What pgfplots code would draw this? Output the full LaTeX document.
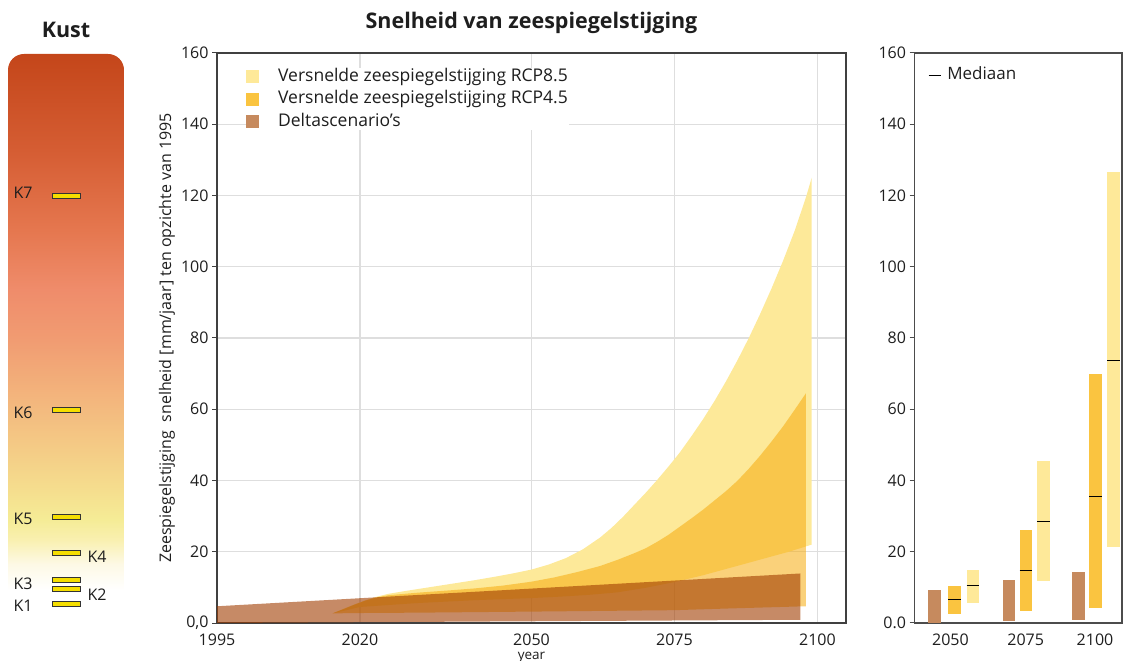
\documentclass[border=0pt]{standalone}
\usepackage{pgfplots}
\pgfplotsset{compat=1.18}
\usepackage{fontspec}
\setmainfont{Open Sans}
\definecolor{r85}{RGB}{253,233,153}
\definecolor{r45}{RGB}{246,171,12}
\definecolor{dlt}{RGB}{160,60,0}
\definecolor{r85leg}{RGB}{254,233,153}
\definecolor{r45leg}{RGB}{250,196,64}
\definecolor{dltleg}{RGB}{198,138,94}
\definecolor{gridc}{RGB}{222,222,222}
\definecolor{txt}{RGB}{30,30,30}
\definecolor{kyel}{RGB}{245,222,0}
\definecolor{ka}{RGB}{253,249,230}
\definecolor{kb}{RGB}{249,240,176}
\definecolor{kc}{RGB}{245,236,150}
\definecolor{kd}{RGB}{245,222,142}
\definecolor{ke}{RGB}{244,204,134}
\definecolor{kf}{RGB}{243,182,125}
\definecolor{kg}{RGB}{241,156,114}
\definecolor{kh}{RGB}{239,140,107}
\definecolor{ki}{RGB}{229,119,79}
\definecolor{kj}{RGB}{213,93,51}
\definecolor{kk}{RGB}{196,70,26}
\pgfdeclareverticalshading{kust}{100bp}{color(0bp)=(white); color(27.2bp)=(white); color(29.5bp)=(ka); color(31.7bp)=(kb); color(33.5bp)=(kc); color(36.1bp)=(kd); color(39.7bp)=(ke); color(44.2bp)=(kf); color(49.5bp)=(kg); color(54bp)=(kh); color(59.3bp)=(ki); color(66.4bp)=(kj); color(75bp)=(kk); color(100bp)=(kk)}
\newcommand{\fs}[1]{\fontsize{#1bp}{#1bp}\selectfont}

% RCP8.5 band: upper edge, then lower edge backwards
\pgfplotstableread{
x y
2015.2 2.7
2017 3.9
2019 5.2
2021 6.4
2023 7.4
2025 8.2
2028 9.0
2032 10.0
2036 11.0
2040 12.0
2044 13.1
2047 14.0
2050 15.0
2053 16.4
2056 18.2
2059 20.7
2062 24.0
2064 26.7
2066 29.8
2068 33.2
2070 36.6
2072 40.2
2074 44.0
2076 48.0
2078 52.5
2080 57.2
2082 62.3
2084 67.8
2086 73.7
2088 80.0
2090 86.8
2092 94.0
2094 101.7
2096 110.0
2098 119.5
2099 125.0
2099 22.0
2095 20.0
2090 17.8
2085 15.6
2080 13.4
2075 11.5
2070 9.9
2065 8.6
2060 7.9
2055 7.4
2050 7.0
2040 6.4
2030 5.6
2020 4.5
}\rcpA

% RCP4.5 band
\pgfplotstableread{
x y
2015.2 2.7
2017 3.8
2019 5.1
2021 6.3
2023 7.2
2025 7.8
2030 8.5
2036 9.2
2040 9.7
2045 10.5
2050 11.6
2054 12.8
2058 14.3
2062 16.0
2065 17.7
2068 19.6
2070 21.0
2072 22.8
2074 24.8
2076 27.1
2078 29.4
2080 31.8
2082 34.4
2084 37.0
2086 39.9
2088 43.3
2090 47.0
2092 51.0
2094 55.2
2096 59.8
2098 64.5
2098 4.7
2085 4.1
2075 3.6
2050 3.2
2030 2.9
2020 2.8
}\rcpB

% Deltascenario's band
\pgfplotstableread{
x y
1995 0.0
2097 0.9
2097 13.9
1995 4.7
}\dltband

\begin{document}
\begin{tikzpicture}
\useasboundingbox (0,0) rectangle (1129bp,661bp);

% ---------- left panel: Kust ----------
\begin{axis}[at={(0,0)}, anchor=south west, scale only axis,
  width=1129bp, height=661bp, xmin=0, xmax=1129, ymin=0, ymax=661,
  y dir=reverse, hide axis, clip=false]
\shade[shading=kust, rounded corners=16bp] (axis cs:8,615) -- (axis cs:8,54) -- (axis cs:124,54) -- (axis cs:124,615) -- cycle;
\node[font=\bfseries\fs{21.5}, text=txt] at (axis cs:66,30) {Kust};
\addplot[fill=kyel, draw=black!80, line width=0.8bp] coordinates {(52,193.5) (80,193.5) (80,198.5) (52,198.5)} --cycle;
\addplot[fill=kyel, draw=black!80, line width=0.8bp] coordinates {(52,407.5) (80,407.5) (80,412.5) (52,412.5)} --cycle;
\addplot[fill=kyel, draw=black!80, line width=0.8bp] coordinates {(52,514.5) (80,514.5) (80,519.5) (52,519.5)} --cycle;
\addplot[fill=kyel, draw=black!80, line width=0.8bp] coordinates {(52,550.5) (80,550.5) (80,555.5) (52,555.5)} --cycle;
\addplot[fill=kyel, draw=black!80, line width=0.8bp] coordinates {(52,577.5) (80,577.5) (80,582.5) (52,582.5)} --cycle;
\addplot[fill=kyel, draw=black!80, line width=0.8bp] coordinates {(52,586) (80,586) (80,591) (52,591)} --cycle;
\addplot[fill=kyel, draw=black!80, line width=0.8bp] coordinates {(52,601) (80,601) (80,606) (52,606)} --cycle;
\node[font=\fs{16}, text=txt] at (axis cs:23,193) {K7};
\node[font=\fs{16}, text=txt] at (axis cs:23,413) {K6};
\node[font=\fs{16}, text=txt] at (axis cs:23,519) {K5};
\node[font=\fs{16}, text=txt] at (axis cs:97,557) {K4};
\node[font=\fs{16}, text=txt] at (axis cs:23,584) {K3};
\node[font=\fs{16}, text=txt] at (axis cs:97,595) {K2};
\node[font=\fs{16}, text=txt] at (axis cs:23,606) {K1};
\end{axis}

% ---------- main panel ----------
\begin{axis}[at={(217bp,38bp)}, anchor=south west, scale only axis,
  width=629bp, height=570bp,
  xmin=1995, xmax=2105, ymin=0, ymax=160,
  xtick={1995,2020,2050,2075,2100}, xticklabels={1995,2020,2050,2075,2100},
  ytick={0,20,40,60,80,100,120,140,160},
  yticklabels={{0,0},20,40,60,80,100,120,140,160},
  grid=major, grid style={draw=gridc, line width=1.1bp},
  axis line style={draw=black!75, line width=1.3bp},
  ytick style={draw=black!75, line width=1bp}, xtick style={draw=none},
  tick pos=left, tick align=outside, major tick length=5bp,
  ticklabel style={font=\fs{16}, text=txt},
  xticklabel style={yshift=-2bp},
  title={\bfseries Snelheid van zeespiegelstijging},
  title style={font=\fs{21.5}, text=txt, at={(axis description cs:0.5,1.043)}, anchor=center},
  xlabel={year}, xlabel style={font=\fs{13.5}, text=txt, at={(axis description cs:0.5,-0.06)}, anchor=center},
  ylabel={Zeespiegelstijging\ \ snelheid [mm/jaar] ten opzichte van 1995},
  ylabel style={font=\fs{16}, text=txt, at={(axis description cs:-0.0795,0.5)}, anchor=center, rotate=0},
  legend style={at={(axis description cs:0.046,0.974)}, anchor=north west, draw=none, fill=white,
     font=\fs{17.5}, text=txt, inner sep=0pt, row sep=5.5bp,
     nodes={inner sep=1bp, text height=12bp, text depth=3bp},
     /tikz/every odd column/.style={column sep=18bp}},
  legend cell align=left,
  legend image code/.code={\fill[#1, draw=none] (0bp,-6.5bp) rectangle (13bp,6.5bp);}
]
\addlegendimage{fill=r85leg, draw=none}
\addlegendentry{Versnelde zeespiegelstijging RCP8.5}
\addlegendimage{fill=r45leg, draw=none}
\addlegendentry{Versnelde zeespiegelstijging RCP4.5}
\addlegendimage{fill=dltleg, draw=none}
\addlegendentry{Deltascenario’s}
\addplot[fill=r85, draw=none, forget plot] table[x=x,y=y] {\rcpA} --cycle;
\addplot[fill=r45, fill opacity=0.55, draw=none, forget plot] table[x=x,y=y] {\rcpB} --cycle;
\addplot[fill=dlt, fill opacity=0.6, draw=none, forget plot] table[x=x,y=y] {\dltband} --cycle;
\end{axis}

% ---------- right panel ----------
\begin{axis}[at={(914.5bp,38bp)}, anchor=south west, scale only axis,
  width=207.5bp, height=570bp,
  xmin=914.5, xmax=1122, ymin=0, ymax=160,
  xtick={950.4,1025.7,1095}, xticklabels={2050,2075,2100},
  ytick={0,20,40,60,80,100,120,140,160},
  yticklabels={0.0,20,40,60,80,100,120,140,160},
  axis line style={draw=black!70, line width=1.4bp},
  ytick style={draw=black!70, line width=1bp}, xtick style={draw=none},
  tick pos=left, tick align=outside, major tick length=5bp,
  ticklabel style={font=\fs{16}, text=txt},
  xticklabel style={yshift=-2bp},
  legend style={at={(axis description cs:0.065,0.976)}, anchor=north west, draw=none, fill=none,
     font=\fs{17}, text=txt, inner sep=0pt,
     nodes={inner sep=1bp, text height=12bp, text depth=3bp},
     /tikz/every odd column/.style={column sep=5bp}},
  legend image code/.code={\draw[black, line width=1.1bp] (0bp,0bp) -- (12bp,0bp);}
]
\addlegendimage{black}
\addlegendentry{Mediaan}
% 2050
\addplot[fill=dltleg, draw=none, forget plot] coordinates {(928.4,0) (941.1,0) (941.1,9.4) (928.4,9.4)} --cycle;
\addplot[fill=r45leg, draw=none, forget plot] coordinates {(948.1,2.5) (961.2,2.5) (961.2,10.5) (948.1,10.5)} --cycle;
\addplot[fill=r85leg, draw=none, forget plot] coordinates {(966.5,5.6) (979.2,5.6) (979.2,15.0) (966.5,15.0)} --cycle;
% 2075
\addplot[fill=dltleg, draw=none, forget plot] coordinates {(1002.6,0.6) (1015.4,0.6) (1015.4,12.0) (1002.6,12.0)} --cycle;
\addplot[fill=r45leg, draw=none, forget plot] coordinates {(1019.7,3.4) (1032.4,3.4) (1032.4,26.0) (1019.7,26.0)} --cycle;
\addplot[fill=r85leg, draw=none, forget plot] coordinates {(1036.8,11.7) (1049.5,11.7) (1049.5,45.6) (1036.8,45.6)} --cycle;
% 2100
\addplot[fill=dltleg, draw=none, forget plot] coordinates {(1071.9,0.8) (1084.6,0.8) (1084.6,14.2) (1071.9,14.2)} --cycle;
\addplot[fill=r45leg, draw=none, forget plot] coordinates {(1089.3,4.2) (1102.0,4.2) (1102.0,70.0) (1089.3,70.0)} --cycle;
\addplot[fill=r85leg, draw=none, forget plot] coordinates {(1107.1,21.3) (1119.8,21.3) (1119.8,126.5) (1107.1,126.5)} --cycle;
% medians
\addplot[black, line width=1bp, forget plot] coordinates {(948.1,6.7) (961.2,6.7)};
\addplot[black, line width=1bp, forget plot] coordinates {(966.5,10.4) (979.2,10.4)};
\addplot[black, line width=1bp, forget plot] coordinates {(1019.7,14.6) (1032.4,14.6)};
\addplot[black, line width=1bp, forget plot] coordinates {(1036.8,28.6) (1049.5,28.6)};
\addplot[black, line width=1bp, forget plot] coordinates {(1089.3,35.5) (1102.0,35.5)};
\addplot[black, line width=1bp, forget plot] coordinates {(1107.1,73.7) (1119.8,73.7)};
\end{axis}
\end{tikzpicture}
\end{document}
